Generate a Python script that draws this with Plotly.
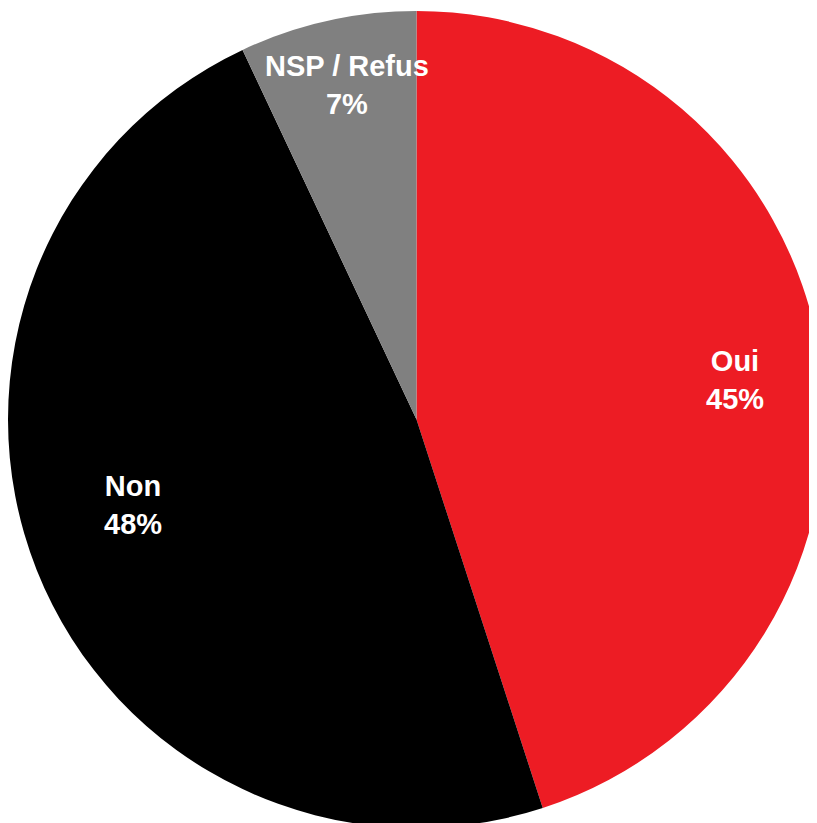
import plotly.graph_objects as go

labels = ["Oui", "Non", "NSP / Refus"]
values = [45, 48, 7]
colors = ["#ED1C24", "#000000", "#808080"]
# label anchor positions (paper coordinates)
label_x = [0.890, 0.153, 0.415]
label_y = [0.548, 0.396, 0.906]

fig = go.Figure(go.Pie(
    labels=labels,
    values=values,
    sort=False,
    direction="clockwise",
    rotation=0,
    marker=dict(colors=colors, line=dict(width=0)),
    textinfo="none",
    showlegend=False,
    hoverinfo="label+percent",
))

total = sum(values)
for lab, val, x, y in zip(labels, values, label_x, label_y):
    fig.add_annotation(
        x=x, y=y, xref="paper", yref="paper",
        text=f"<b>{lab}</b><br><b>{round(100 * val / total)}%</b>",
        showarrow=False,
        xanchor="center", yanchor="middle",
        font=dict(family="Liberation Sans, Arial, sans-serif", size=29, color="white"),
        align="center",
    )

fig.update_layout(
    width=817,
    height=823,
    margin=dict(l=0, r=0, t=0, b=0),
    paper_bgcolor="white",
    plot_bgcolor="white",
)

fig.write_html("out.html")
